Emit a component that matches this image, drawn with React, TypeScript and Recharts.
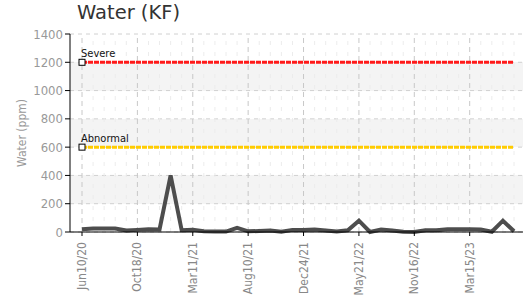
import React from "react";
import {
  LineChart,
  Line,
  XAxis,
  YAxis,
  CartesianGrid,
  ReferenceLine,
} from "recharts";

// labels shown every 5th sample
const dateLabels = [
  "Jun10/20",
  "Oct18/20",
  "Mar11/21",
  "Aug10/21",
  "Dec24/21",
  "May21/22",
  "Nov16/22",
  "Mar15/23",
];
const labelEvery = 5;

const water = [
  19, 25, 25, 25, 10, 15, 20, 18, 400, 12,
  15, 5, 3, 3, 30, 5, 7, 10, 2, 15,
  15, 18, 10, 3, 12, 80, 0, 18, 10, 2,
  0, 12, 12, 20, 20, 20, 18, 2, 80, 5,
];

const severeLimit = 1200;
const abnormalLimit = 600;
const yTicks = [0, 200, 400, 600, 800, 1000, 1200, 1400];

const data = water.map((v, i) => ({
  i,
  water: v,
  severe: severeLimit,
  abnormal: abnormalLimit,
}));

const majorTicks = dateLabels.map((_, k) => k * labelEvery);
const font = "'DejaVu Sans Condensed', 'DejaVu Sans', sans-serif";

const StartMarker = (props: any) => {
  const { cx, cy, index } = props;
  if (index !== 0) return <g key={`m-${index}`} />;
  return (
    <rect
      key={`m-${index}`}
      x={cx - 3}
      y={cy - 3}
      width={6}
      height={6}
      fill="#fff"
      stroke="#000"
      strokeWidth={1}
    />
  );
};

const limitLabel = (text: string) => (props: any) => {
  const { x, y, index } = props;
  if (index !== 0) return null;
  return (
    <text
      x={x - 1}
      y={y - 5}
      fontSize={11}
      fontFamily={font}
      fill="#111"
    >
      {text}
    </text>
  );
};

const XTick = (props: any) => {
  const { x, y, payload } = props;
  const label = dateLabels[payload.value / labelEvery];
  return (
    <text
      x={0}
      y={0}
      transform={`translate(${x + 4},${y + 4}) rotate(-90)`}
      textAnchor="end"
      fontSize={12}
      fontFamily={font}
      fill="#888"
    >
      {label}
    </text>
  );
};

export default function App() {
  return (
    <div style={{ position: "absolute", left: 0, top: 0, width: 525, height: 296, background: "#fff" }}>
      <div
        style={{
          position: "absolute",
          left: 77,
          top: 1,
          fontFamily: "'DejaVu Sans', sans-serif",
          fontSize: 19.5,
          color: "#333",
          lineHeight: "24px",
        }}
      >
        Water (KF)
      </div>
      <LineChart
        width={525}
        height={296}
        data={data}
        margin={{ top: 34, right: 2, bottom: 0, left: 0 }}
      >
        <CartesianGrid
          horizontal
          vertical={false}
          stroke="#d0d0d0"
          strokeDasharray="4 4"
          horizontalFill={["#ffffff", "#f4f4f4"]}
        />
        {data.map((d) =>
          d.i % labelEvery === 0 ? null : (
            <ReferenceLine
              key={`minor-${d.i}`}
              x={d.i}
              stroke="#ececec"
              strokeDasharray="4 7"
            />
          )
        )}
        {majorTicks.map((t) => (
          <ReferenceLine
            key={`major-${t}`}
            x={t}
            stroke="#c8c8c8"
            strokeDasharray="5 4"
          />
        ))}
        <XAxis
          dataKey="i"
          type="number"
          domain={[0, water.length - 1]}
          ticks={majorTicks}
          padding={{ left: 12, right: 9 }}
          height={64}
          axisLine={{ stroke: "#000" }}
          tickLine={{ stroke: "#000" }}
          tickSize={4}
          tick={<XTick />}
          interval={0}
        />
        <YAxis
          domain={[0, 1400]}
          ticks={yTicks}
          width={70}
          axisLine={{ stroke: "#000" }}
          tickLine={{ stroke: "#000" }}
          tickSize={5}
          tickMargin={2}
          tick={{ fill: "#999", fontSize: 13, fontFamily: font }}
          label={{
            value: "Water (ppm)",
            angle: -90,
            position: "insideLeft",
            offset: 22,
            style: { fill: "#999", fontSize: 12, fontFamily: font, textAnchor: "middle" },
          }}
        />
        <Line
          dataKey="severe"
          stroke="#ff1a1a"
          strokeWidth={3}
          strokeDasharray="5 1"
          dot={<StartMarker />}
          activeDot={false}
          label={limitLabel("Severe")}
          isAnimationActive={false}
        />
        <Line
          dataKey="abnormal"
          stroke="#ffcc00"
          strokeWidth={3}
          strokeDasharray="5 1"
          dot={<StartMarker />}
          activeDot={false}
          label={limitLabel("Abnormal")}
          isAnimationActive={false}
        />
        <Line
          dataKey="water"
          type="linear"
          stroke="#4d4d4d"
          strokeWidth={4}
          dot={false}
          activeDot={false}
          isAnimationActive={false}
        />
      </LineChart>
    </div>
  );
}
